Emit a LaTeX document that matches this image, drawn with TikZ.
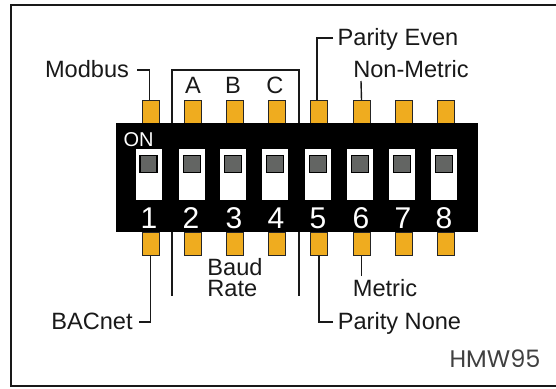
\documentclass[tikz,border=0pt]{standalone}
\usepackage{fontspec}
\setmainfont{Liberation Sans}
\newfontfamily\codefont{Poppins}
\usepackage{xcolor}
\usetikzlibrary{positioning,calc}
\definecolor{pinorange}{HTML}{EFAC1F}
\definecolor{slidegray}{HTML}{636563}

\begin{document}
\begin{tikzpicture}[x=1pt,y=-1pt,
  lbl/.style={inner sep=0pt,anchor=base,font=\fontsize{23.6}{24}\selectfont,text=black!90},
  num/.style={inner sep=0pt,anchor=base,font=\fontsize{30}{30}\selectfont,text=white},
  pin/.style={rectangle,draw=black!85,line width=1pt,fill=pinorange,minimum width=17pt,minimum height=23pt,inner sep=0pt},
  win/.style={rectangle,fill=white,minimum width=26pt,minimum height=51pt,inner sep=0pt},
  slide/.style={rectangle,draw=black,line width=1.6pt,fill=slidegray,minimum size=17pt,inner sep=0pt},
  lead/.style={line width=1.4pt,black!90}]
\useasboundingbox (0,0) rectangle (556,388);
% outer frame, cut off on the right
\draw[line width=1.6pt,black!90] (556,5)--(11,5)--(11,386)--(556,386);
% pins, top and bottom row
\foreach \i/\x in {1/150.5,2/192.5,3/234.5,4/276.5,5/319,6/361.5,7/403.5,8/445.5}{
  \node[pin](t\i) at (\x,112){};
  \node[pin](b\i) at (\x,243.5){};
}
% black body
\node[rectangle,fill=black,minimum width=362pt,minimum height=109pt,inner sep=0pt](body) at (297,177.5){};
% switch windows and sliders
\foreach \i/\x/\s in {1/149/148.5,2/191.5/192,3/233/233,4/275/275,5/318/318,6/359.5/360,7/402/402,8/444/444}{
  \node[win](w\i) at (\x,174.5){};
  \node[slide](s\i) at (\s,164){};
}
% numbers under the switches
\foreach \i/\x in {1/149,2/191,3/234,4/276,5/318,6/361,7/403,8/444}{
  \node[num](n\i) at (\x,228){\i};
}
\node[inner sep=0pt,anchor=base,font=\fontsize{20}{20}\selectfont,text=white](on) at (138.5,146){ON};
% labels
\node[lbl](modbus) at (87,77){Modbus};
\node[lbl](bacnet) at (92,329){BACnet};
\node[lbl](pe) at (398,45){Parity Even};
\node[lbl](nm) at (411,77){Non-Metric};
\node[lbl](met) at (385,296){Metric};
\node[lbl](pn) at (399.5,329){Parity None};
\node[lbl](la) at (193,93){A};
\node[lbl](lb) at (233,93){B};
\node[lbl](lc) at (275,93){C};
\node[lbl,anchor=center,align=left,font=\fontsize{23.6}{21}\selectfont](baud) at (235,277.5){Baud\\Rate};
\node[inner sep=0pt,anchor=base,font=\codefont\fontsize{24}{24}\selectfont,text=black!75](hmw) at (495,367){HMW95};
% leaders
\coordinate(m0) at (137,70);
\draw[lead](m0)-|([xshift=-1pt]t1.north);
\coordinate(b0) at (139,322);
\draw[lead](b0)-|(b1.south);
\coordinate(pe0) at (333,38);
\draw[lead](pe0)-|([xshift=-2pt]t5.north);
\coordinate(pn0) at (333,322);
\draw[lead](pn0)-|(b5.south);
\coordinate(nm0) at (361,81);
\draw[lead](nm0)--(t6.north);
\coordinate(me0) at (361.5,276);
\draw[lead](me0)--(b6.south);
% baud rate bracket
\coordinate(bl) at (172,123);
\coordinate(br) at (299,123);
\draw[lead](bl)--(172,70)--(299,70)--(br);
\coordinate(cl) at (172,232);
\coordinate(dl) at (172,296);
\coordinate(cr) at (299,232);
\coordinate(dr) at (299,296);
\draw[lead](cl)--(dl);
\draw[lead](cr)--(dr);
\end{tikzpicture}
\end{document}
